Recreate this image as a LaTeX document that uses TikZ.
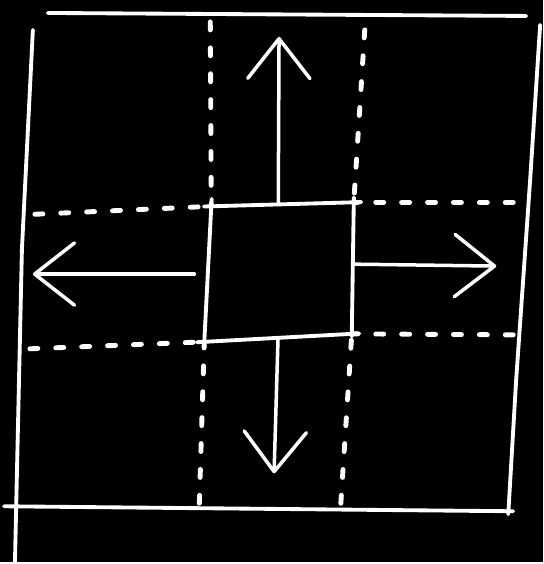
\documentclass[tikz,border=0pt]{standalone}
\usetikzlibrary{arrows.meta,calc}
\begin{document}
\begin{tikzpicture}[x=0.02cm, y=-0.02cm, line cap=round, line join=round,
    sl/.style={draw=white, line width=2.2pt},
    dl/.style={draw=white, line width=2.8pt, dash pattern=on 0.16cm off 0.36cm},
    ar/.style={draw=white, line width=2pt,
               -{Straight Barb[length=0.8cm, width=1.25cm, round]}}
  ]
  \fill[black] (0,0) rectangle (545,564);
  \draw[sl] (48,13) -- (528,16);
  \draw[sl] (33,30) -- (22,250) -- (15,564);
  \draw[sl] (542,25) -- (532,180) -- (518,380) -- (510,516);
  \draw[sl] (4,508) -- (515,513);
  \coordinate (tl) at (212,207);
  \coordinate (tr) at (355,203);
  \coordinate (br) at (353,335);
  \coordinate (bl) at (205,343);
  \draw[sl, shorten <=-0.15cm, shorten >=-0.15cm] (tl) -- (tr);
  \draw[sl, shorten <=-0.1cm, shorten >=-0.05cm] (tr) -- (br);
  \draw[sl, shorten <=-0.15cm, shorten >=-0.15cm] (br) -- (bl);
  \draw[sl, shorten <=-0.1cm, shorten >=-0.15cm] (bl) -- (tl);
  \draw[dl] (211,22) -- (tl);
  \draw[dl] (200,505) -- (bl);
  \draw[dl] (366,30) -- (tr);
  \draw[dl] (342,505) -- (br);
  \draw[dl] (35,215) -- (tl);
  \draw[dl] (30,350) -- (bl);
  \draw[dl] (515,203) -- (tr);
  \draw[dl] (515,336) -- (br);
  \coordinate (ut) at (280,37);
  \coordinate (dt) at (275,475);
  \coordinate (ls) at (195,275);
  \coordinate (lt) at (33,275);
  \coordinate (rt) at (498,267);
  \draw[ar] ($(tl)!0.47!(tr)$) -- (ut);
  \draw[ar] ($(bl)!0.5!(br)$) -- (dt);
  \draw[ar] (ls) -- (lt);
  \draw[ar] ($(tr)!0.47!(br)$) -- (rt);
\end{tikzpicture}
\end{document}
